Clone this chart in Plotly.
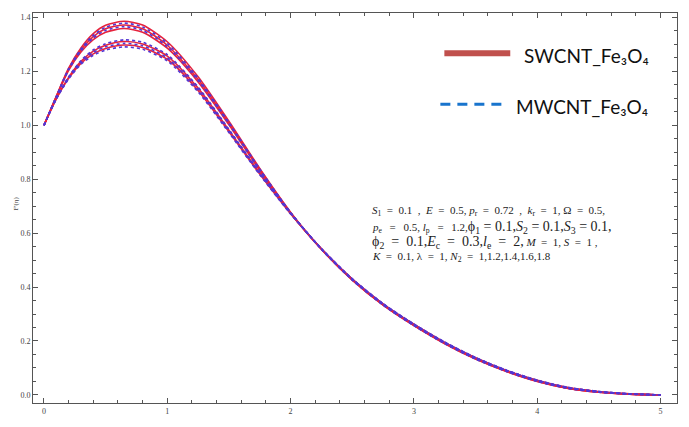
import plotly.graph_objects as go

# ---------------- data ----------------
eta = [0, 0.1, 0.2, 0.3, 0.4, 0.5, 0.65, 0.8, 1.0, 1.25, 1.5, 1.75, 2.0, 2.25, 2.5,
       2.75, 3.0, 3.25, 3.5, 3.75, 4.0, 4.25, 4.5, 4.75, 5.0]

# SWCNT_Fe3O4 (red solid), N2 = 1, 1.2, 1.4, 1.6, 1.8
swcnt_1 = [1.0, 1.108, 1.212, 1.287, 1.340, 1.371, 1.386, 1.372, 1.310, 1.180, 1.015, 0.840, 0.678,
           0.540, 0.426, 0.333, 0.257, 0.190, 0.133, 0.087, 0.050, 0.024, 0.010, 0.003, 0.0]
swcnt_2 = [1.0, 1.107, 1.208, 1.279, 1.329, 1.358, 1.372, 1.358, 1.297, 1.170, 1.008, 0.836, 0.676,
           0.540, 0.427, 0.334, 0.258, 0.191, 0.134, 0.088, 0.051, 0.025, 0.010, 0.003, 0.0]
swcnt_3 = [1.0, 1.105, 1.204, 1.272, 1.318, 1.345, 1.359, 1.345, 1.286, 1.161, 1.002, 0.832, 0.674,
           0.541, 0.428, 0.335, 0.259, 0.192, 0.135, 0.089, 0.052, 0.025, 0.011, 0.003, 0.0]
swcnt_4 = [1.0, 1.099, 1.178, 1.237, 1.275, 1.297, 1.311, 1.302, 1.257, 1.138, 0.982, 0.823, 0.674,
           0.542, 0.430, 0.337, 0.261, 0.194, 0.137, 0.090, 0.053, 0.026, 0.012, 0.004, 0.0]
swcnt_5 = [1.0, 1.098, 1.174, 1.230, 1.265, 1.285, 1.298, 1.289, 1.245, 1.129, 0.976, 0.819, 0.672,
           0.542, 0.430, 0.338, 0.262, 0.195, 0.138, 0.091, 0.054, 0.027, 0.012, 0.004, 0.0]

# MWCNT_Fe3O4 (blue dashed), N2 = 1, 1.2, 1.4, 1.6, 1.8
mwcnt_1 = [1.0, 1.107, 1.210, 1.283, 1.334, 1.364, 1.379, 1.365, 1.304, 1.175, 1.011, 0.838, 0.677,
           0.540, 0.426, 0.333, 0.257, 0.190, 0.133, 0.087, 0.050, 0.024, 0.010, 0.003, 0.0]
mwcnt_2 = [1.0, 1.106, 1.206, 1.276, 1.324, 1.352, 1.366, 1.352, 1.292, 1.166, 1.005, 0.834, 0.675,
           0.541, 0.427, 0.334, 0.258, 0.191, 0.134, 0.088, 0.051, 0.025, 0.011, 0.003, 0.0]
mwcnt_3 = [1.0, 1.100, 1.180, 1.240, 1.280, 1.303, 1.317, 1.308, 1.262, 1.142, 0.985, 0.825, 0.675,
           0.542, 0.430, 0.338, 0.262, 0.195, 0.138, 0.091, 0.054, 0.027, 0.012, 0.004, 0.0]
mwcnt_4 = [1.0, 1.099, 1.176, 1.233, 1.270, 1.291, 1.304, 1.295, 1.250, 1.133, 0.979, 0.821, 0.673,
           0.542, 0.430, 0.338, 0.262, 0.195, 0.138, 0.091, 0.054, 0.027, 0.012, 0.004, 0.0]
mwcnt_5 = [1.0, 1.097, 1.172, 1.226, 1.260, 1.279, 1.291, 1.282, 1.239, 1.124, 0.973, 0.817, 0.671,
           0.543, 0.431, 0.339, 0.263, 0.196, 0.139, 0.092, 0.055, 0.028, 0.013, 0.004, 0.0]

x_ticks = [0, 1, 2, 3, 4, 5]
y_ticks = [0.0, 0.2, 0.4, 0.6, 0.8, 1.0, 1.2, 1.4]
x_tick_labels = ["0", "1", "2", "3", "4", "5"]
y_tick_labels = ["0.0", "0.2", "0.4", "0.6", "0.8", "1.0", "1.2", "1.4"]

RED = "#e6233d"
BLUE = "#5236d4"

fig = go.Figure()
for ys in [swcnt_1, swcnt_2, swcnt_3, swcnt_4, swcnt_5]:
    fig.add_trace(go.Scatter(x=eta, y=ys, mode="lines",
                             line=dict(color=RED, width=1.6, shape="spline", smoothing=0.7),
                             showlegend=False, hoverinfo="skip"))
for ys in [mwcnt_1, mwcnt_2, mwcnt_3, mwcnt_4, mwcnt_5]:
    fig.add_trace(go.Scatter(x=eta, y=ys, mode="lines",
                             line=dict(color=BLUE, width=1.6, dash="3px,3px", shape="spline", smoothing=0.7),
                             showlegend=False, hoverinfo="skip"))

axis_common = dict(
    showgrid=False, zeroline=False, showline=True, linecolor="#555555", linewidth=1,
    mirror="ticks", ticks="inside", ticklen=5, tickwidth=1, tickcolor="#555555",
    tickfont=dict(family="Liberation Serif", size=8, color="#444444"),
)
fig.update_xaxes(range=[-0.089, 5.134], tickvals=x_ticks, ticktext=x_tick_labels,
                 minor=dict(dtick=0.2, ticks="inside", ticklen=3, tickcolor="#555555", showgrid=False),
                 **axis_common)
fig.update_yaxes(range=[-0.030, 1.4166], tickvals=y_ticks, ticktext=y_tick_labels,
                 minor=dict(dtick=0.05, ticks="inside", ticklen=3, tickcolor="#555555", showgrid=False),
                 **axis_common)

# y axis title
fig.add_annotation(xref="paper", yref="paper", x=(10 - 33) / 645, y=(410 - 207) / 397, text="F'(η)",
                   showarrow=False, textangle=-90,
                   font=dict(family="Liberation Serif", size=7, color="#444444"))

# legend (drawn manually)
fig.add_shape(type="line", xref="paper", yref="paper", x0=(445 - 33) / 645, x1=(511 - 33) / 645,
              y0=(410 - 54) / 397, y1=(410 - 54) / 397, line=dict(color="#c0504d", width=6))
fig.add_annotation(xref="paper", yref="paper", x=(523 - 33) / 645, y=(410 - 56) / 397, xanchor="left",
                   yanchor="middle", text="SWCNT_Fe₃O₄", showarrow=False,
                   font=dict(family="Lato, Noto Sans, DejaVu Sans", size=19, color="#111111"))
fig.add_shape(type="line", xref="paper", yref="paper", x0=(441 - 33) / 645, x1=(506 - 33) / 645,
              y0=(410 - 106) / 397, y1=(410 - 106) / 397,
              line=dict(color="#1874cd", width=3, dash="10px,7px"))
fig.add_annotation(xref="paper", yref="paper", x=(515 - 33) / 645, y=(410 - 108) / 397, xanchor="left",
                   yanchor="middle", text="MWCNT_Fe₃O₄", showarrow=False,
                   font=dict(family="Lato, Noto Sans, DejaVu Sans", size=19, color="#111111"))

# parameter text block
EQ = "\u2002=\u2002"               # medium spacing around '='
EQW = "\u2002\u2009=\u2002\u2009"  # wide spacing around '='
SP = "\u2002"


def big(s):
    return '<span style="font-size:14px">' + s + '</span>'


lines = [
    "<i>S</i><sub>1</sub>" + EQ + "0.1" + SP + "," + SP + "<i>E</i>" + EQ + "0.5, <i>p</i><sub>r</sub>"
    + EQ + "0.72" + SP + "," + SP + "<i>k</i><sub>r</sub>" + EQ + "1, Ω" + EQ + "0.5,",
    "<i>p</i><sub>e</sub>" + EQW + "0.5, <i>l</i><sub>p</sub>" + EQW + "1.2,"
    + big("ϕ<sub>1</sub> = 0.1,<i>S</i><sub>2</sub> = 0.1,<i>S</i><sub>3</sub> = 0.1,"),
    big("ϕ<sub>2</sub>" + EQ + "0.1,<i>E</i><sub>c</sub>" + EQ + "0.3,<i>l</i><sub>e</sub>" + EQ + "2,")
    + " <i>M</i>" + EQ + "1, <i>S</i>" + EQ + "1 ,",
    "<i>K</i>" + EQ + "0.1, λ" + EQ + "1, <i>N</i><sub>2</sub>" + EQ + "1,1.2,1.4,1.6,1.8",
]
ys_px = [215, 231, 247, 261]
for t, yp in zip(lines, ys_px):
    fig.add_annotation(xref="paper", yref="paper", x=(371 - 33) / 645, y=(410 - yp) / 397,
                       xanchor="left", yanchor="middle", text=t, showarrow=False,
                       font=dict(family="Liberation Serif", size=11, color="#222222"))

fig.update_layout(
    width=689, height=427,
    margin=dict(l=33, r=11, t=13, b=17),
    paper_bgcolor="white", plot_bgcolor="white",
    showlegend=False,
)

fig.write_html("out.html")
